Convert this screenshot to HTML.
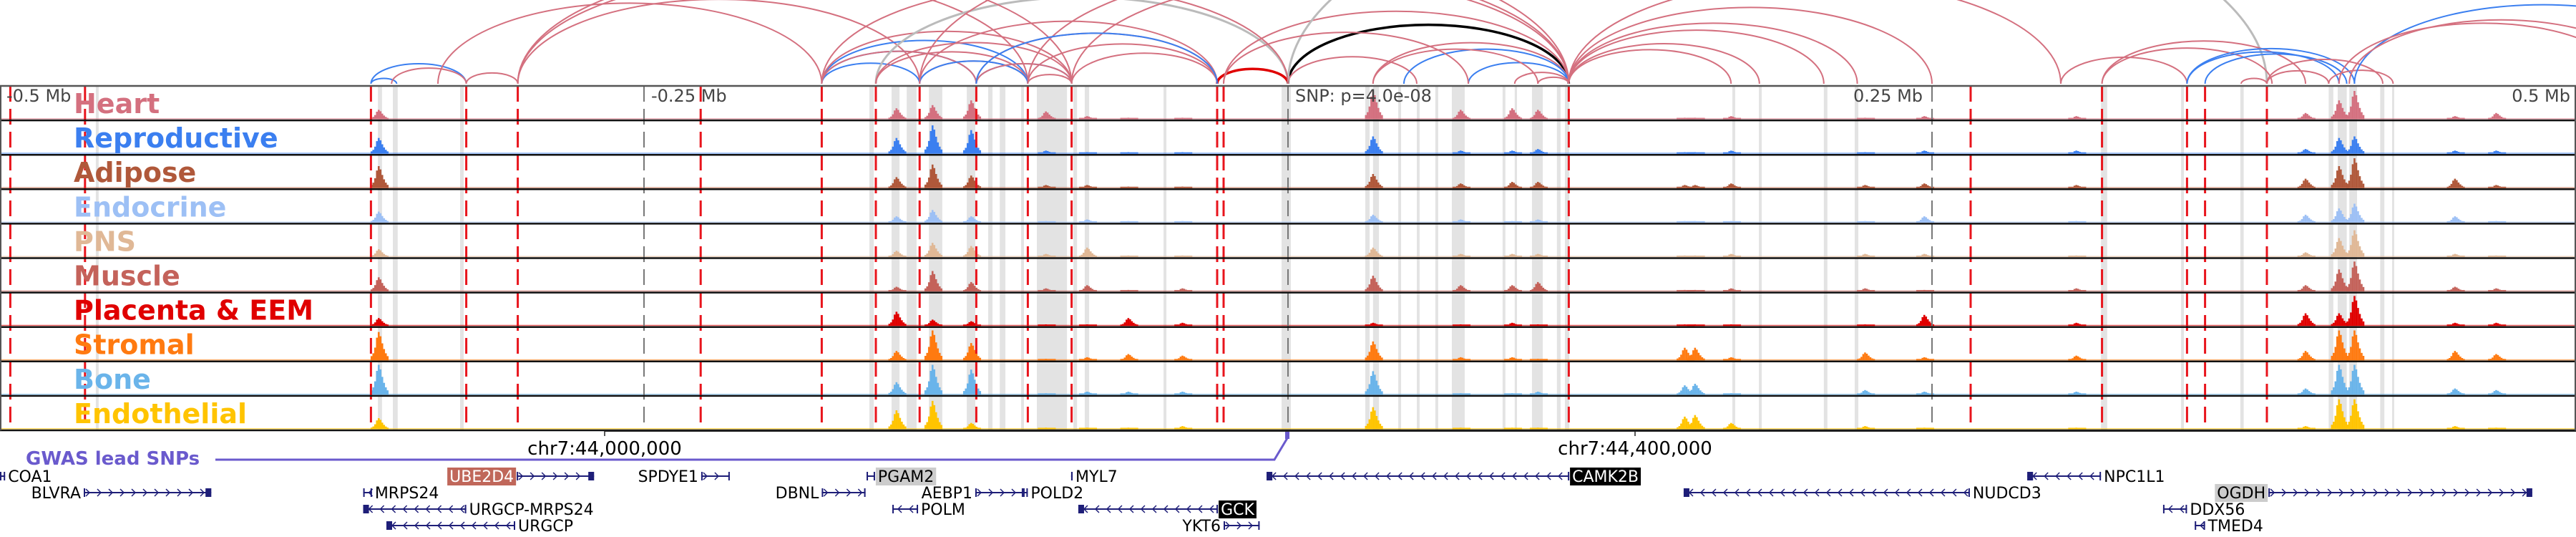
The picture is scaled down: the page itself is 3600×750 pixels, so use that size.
<!DOCTYPE html>
<html><head><meta charset="utf-8">
<style>
html,body{margin:0;padding:0;background:#fff;}
svg{display:block;font-family:"DejaVu Sans","Liberation Sans",sans-serif;}
</style></head>
<body>
<svg id="chart" width="3600" height="750" viewBox="0 0 3600 750" xmlns="http://www.w3.org/2000/svg">
<g id="arcs"></g>
<g id="bands"></g>
<g id="signals"></g>
<g id="vlines"></g>
<g id="frames"></g>
<g id="labels"></g>
<g id="ticks">
 <text x="9" y="142" font-size="24" fill="#444">-0.5 Mb</text>
 <text x="910" y="142" font-size="24" fill="#444">-0.25 Mb</text>
 <text x="1810" y="142" font-size="24" fill="#444">SNP: p=4.0e-08</text>
 <text x="2590" y="142" font-size="24" fill="#444">0.25 Mb</text>
 <text x="3592" y="142" font-size="24" fill="#444" text-anchor="end">0.5 Mb</text>
</g>
<g id="axis">
 <line x1="845" y1="602" x2="3600" y2="602" stroke="#222" stroke-width="2"/>
 <line x1="845" y1="601" x2="845" y2="609" stroke="#222" stroke-width="1.5"/>
 <line x1="2285" y1="601" x2="2285" y2="609" stroke="#222" stroke-width="1.5"/>
 <text x="845" y="635" font-size="26" text-anchor="middle" fill="#000">chr7:44,000,000</text>
 <text x="2285" y="635" font-size="26" text-anchor="middle" fill="#000">chr7:44,400,000</text>
</g>
<g id="gwas">
 <text x="36" y="649" font-size="26" font-weight="bold" fill="#6a5acd">GWAS lead SNPs</text>
 <polyline points="301,642 1781,642 1799,612" fill="none" stroke="#6a5acd" stroke-width="3"/>
 <rect x="1796" y="603" width="6" height="10" fill="#6a5acd"/>
</g>
<g id="genes"></g>
</svg>
<script>
// ----- data -----
const tissues = ["Heart","Reproductive","Adipose","Endocrine","PNS","Muscle","Placenta & EEM","Stromal","Bone","Endothelial"];
const tissueColors = ["#d4707f","#3b7ff0","#b0583a","#9dc0f5","#e0b896","#c4625a","#e00000","#ff7a10","#6ab4ea","#ffc400"];
const peakKb = [-353,-152,-138,-123,-94,-78,-62,-41,33,67,87,97,154,158,172,224,247,306,395,408,414,453,469];
const hHeart = [.3,.35,.45,.6,.25,.1,.05,.05,.9,.3,.35,.3,.05,.05,.1,.05,.1,.1,.2,.6,.9,.1,.2];
const hRepro = [.5,.5,.9,.75,.1,.05,.05,.05,.55,.1,.1,.15,.05,.05,.1,.05,.1,.1,.15,.5,.55,.1,.1];
const hAdipose = [.7,.35,.75,.4,.1,.1,.05,.05,.45,.15,.2,.2,.1,.1,.15,.1,.15,.1,.3,.7,.95,.3,.1];
const hEndocrine = [.35,.2,.4,.2,.05,.1,.05,.05,.25,.1,.05,.1,.05,.05,.05,.05,.2,.05,.25,.45,.6,.2,.05];
const hPNS = [.25,.2,.45,.35,.1,.3,.05,.05,.3,.1,.1,.1,.05,.05,.1,.1,.1,.05,.15,.6,.85,.1,.05];
const hMuscle = [.45,.15,.65,.3,.1,.2,.05,.1,.5,.2,.2,.3,.05,.05,.1,.1,.05,.1,.2,.7,.95,.15,.1];
const hPlacenta = [.25,.45,.2,.15,.05,.05,.25,.1,.1,.05,.1,.05,.05,.05,.05,.05,.35,.1,.4,.4,.95,.1,.1];
const hStromal = [.9,.3,.95,.55,.05,.1,.2,.15,.6,.1,.1,.05,.4,.4,.1,.25,.1,.15,.3,.95,.95,.3,.2];
const hBone = [.95,.4,.95,.8,.05,.1,.1,.1,.75,.05,.05,.1,.3,.35,.05,.15,.1,.1,.2,.95,.95,.2,.15];
const hEndothelial = [.35,.6,.9,.2,.05,.05,.05,.1,.7,.05,.05,.05,.4,.45,.2,.1,.05,.05,.1,.95,.95,.1,.05];
const redLinesKb = [-496,-467,-356,-319,-299,-228,-181,-160,-143,-121,-101,-84,-27.5,-25,109,265,316,349,356,380];
const grayLinesKb = [-250,0,250];
const bandStartKb = [-462.8,-353.3,-347.5,-321.4,-162.5,-153.9,-148,-139.4,-124.7,-116.4,-111.9,-103.6,-97.5,-83.3,-78.9,-48.3,-2.5,30,33,42.8,50,57.2,63.6,83.3,88,94.7,104.4,107.5,172.5,182.8,208,220,315.6,346.7,369.7,404,407.5,412,424,428.6];
const bandEndKb = [-461.7,-351.7,-345.6,-320,-160.8,-150.8,-144.2,-134.2,-121.4,-114.7,-109.7,-102.5,-85.8,-81.9,-77.2,-47.2,1.1,31.7,35.3,43.9,51.1,58.3,68.6,84.4,88.9,98.9,105.8,109.2,173.6,183.9,209.4,221.4,318,347.8,371,405.8,411,415,425.6,429.4];
const arcStartKb = [-356,-356,-348,-319,-299,-299,-330,-181,-181,-181,-181,-181,-160,-143,-121,-101,-84,-160,-143,-143,-121,-121,-101,-27.5,0,-25,0,33,45,70,88,97,-84,-101,109,109,109,109,109,109,0,300,316,316,349,356,349,370,380,380,404,414,408,412,-299,-143,-181,-25,33,-160,-121];
const arcEndKb = [-346,-319,-319,-299,-143,-101,-181,-101,-143,-121,-121,-84,0,-27.5,-27.5,-27.5,-27.5,-101,-101,-101,-84,-84,-84,0,109,109,50,109,109,109,109,109,109,109,172,183,208,221,300,250,380,349,395,382,408,411,414,380,404,425,429,560,520,530,-84,109,0,70,97,-84,-27.5];
const arcColors = ["b","b","p","p","p","p","p","b","b","b","p","p","g","p","p","p","p","p","p","b","b","p","p","r","k","p","p","p","b","b","p","p","p","p","p","p","p","p","p","p","g","p","p","p","b","b","b","p","p","p","p","b","p","p","p","p","p","p","p","p","b"];
const genes = [
 ["COA1",-500,-498,0,-1,"none"],["BLVRA",-467.5,-418,1,1,"none"],["UBE2D4",-299.4,-269.4,0,1,"brown"],["SPDYE1",-227.8,-216.7,0,1,"none"],
 ["MRPS24",-359,-355.6,1,-1,"none"],["URGCP-MRPS24",-359,-319,2,-1,"none"],["URGCP",-350,-300,3,-1,"none"],
 ["DBNL",-181,-164,1,1,"none"],["PGAM2",-163.6,-160.3,0,-1,"gray"],["AEBP1",-121.4,-102.8,1,1,"none"],["POLD2",-102.8,-101,1,-1,"none"],
 ["POLM",-153.6,-143.6,2,-1,"none"],["MYL7",-84.2,-83.6,0,-1,"none"],["GCK",-81.4,-27.2,2,-1,"black"],["YKT6",-25,-11,3,1,"none"],
 ["CAMK2B",-8.3,109.2,0,-1,"black"],["NUDCD3",153.6,264.7,1,-1,"none"],["NPC1L1",287,315.6,0,-1,"none"],["OGDH",380.6,483,1,1,"gray"],
 ["DDX56",339.7,349,2,-1,"none"],["TMED4",352,356,3,-1,"none"]
];
// ----- scales -----
const NS="http://www.w3.org/2000/svg";
function xs(kb){return 1800+kb*3.6;}
const trackTop=120, trackH=48.1, sigMax=44;
function ty(i){return trackTop+i*trackH;}
function mk(tag,attrs,parent){const e=document.createElementNS(NS,tag);for(const k in attrs)e.setAttribute(k,attrs[k]);parent.appendChild(e);return e;}
const palette={p:"#d4707f",b:"#3b7ff0",g:"#bbbbbb",r:"#e00000",k:"#000000"};
// arcs
const gA=document.getElementById("arcs");
for(let i=0;i<arcStartKb.length;i++){
 const x1=xs(arcStartKb[i]),x2=xs(arcEndKb[i]);const span=x2-x1;const c=arcColors[i];
 const p=mk("path",{d:`M${x1},117 A${span/2},${span*0.21} 0 0 1 ${x2},117`,fill:"none",stroke:palette[c],"stroke-width":(c==="r"||c==="k")?3.5:(c==="g"?3:2)},gA);
 
 
}
// bands
const gB=document.getElementById("bands");
for(let i=0;i<bandStartKb.length;i++){
 const r=mk("rect",{x:xs(bandStartKb[i]),y:trackTop,width:Math.max(3,xs(bandEndKb[i])-xs(bandStartKb[i])),height:trackH*10,fill:"#e3e3e3"},gB);
 
 
}
// signals
const heights=[hHeart,hRepro,hAdipose,hEndocrine,hPNS,hMuscle,hPlacenta,hStromal,hBone,hEndothelial];
const shape=[.15,.25,.45,.8,1,.85,.6,.4,.25,.15];
const gS=document.getElementById("signals");
for(let t=0;t<tissues.length;t++){
 const g=mk("g",{fill:tissueColors[t]},gS);
 
 
 const base=ty(t+1)-1.5;
 const bl=mk("rect",{x:0,y:base-1.5,width:3600,height:1.5,opacity:0.6},g);
 
 
 for(let p=0;p<peakKb.length;p++){
  const cx=xs(peakKb[p]);const H=heights[t][p]*sigMax;
  for(let s=0;s<shape.length;s++){
   const h=Math.max(2,H*shape[s]);
   const b=mk("rect",{x:cx+(s-4.5)*2.5,y:base-h,width:2.6,height:h},g);
   
   
  }
 }
}
// vertical lines
const gV=document.getElementById("vlines");
redLinesKb.forEach(k=>{const l=mk("line",{x1:xs(k),x2:xs(k),y1:trackTop,y2:601,stroke:"#e8141c","stroke-width":3,"stroke-dasharray":"22 10"},gV);
 
 });
grayLinesKb.forEach(k=>{const l=mk("line",{x1:xs(k),x2:xs(k),y1:trackTop,y2:601,stroke:"#777","stroke-width":2,"stroke-dasharray":"22 10"},gV);
 
 });
// frames
const gF=document.getElementById("frames");
for(let i=0;i<=10;i++){const l=mk("line",{x1:0,x2:3600,y1:ty(i),y2:ty(i),stroke:i===0?"#555":"#111","stroke-width":2.5},gF);
 
 }
mk("line",{x1:1,x2:1,y1:trackTop,y2:601,stroke:"#555","stroke-width":2},gF);
mk("line",{x1:3599,x2:3599,y1:trackTop,y2:601,stroke:"#555","stroke-width":2},gF);
// labels
const gL=document.getElementById("labels");
tissues.forEach((n,i)=>{const tx=mk("text",{x:103,y:ty(i)+38,"font-size":38,"font-weight":"bold",fill:tissueColors[i]},gL);tx.textContent=n;
 
 });
// genes
const gG=document.getElementById("genes");
const rowY=[665,688,711,734];const navy="#1e1e78";
genes.forEach(([name,s,e,row,strand,hl])=>{
 const g=mk("g",{},gG);
 
 
 const x1=xs(s),x2=xs(e),y=rowY[row];
 mk("line",{x1:x1,x2:x2,y1:y,y2:y,stroke:navy,"stroke-width":2},g);
 for(let x=x1+8;x<x2-4;x+=16){const d=strand>0?-5:5;
  mk("polyline",{points:`${x+d},${y-5} ${x},${y} ${x+d},${y+5}`,fill:"none",stroke:navy,"stroke-width":1.5},g);}
 mk("rect",{x:x1,y:y-6,width:2,height:12,fill:navy},g);
 mk("rect",{x:x2-2,y:y-6,width:2,height:12,fill:navy},g);
 if(e-s>25){mk("rect",{x:strand>0?x2-8:x1,y:y-6,width:8,height:12,fill:navy},g);}
 const leftLabel=strand>0;
 const lx=leftLabel?x1-4:x2+4;
 const t=mk("text",{x:lx,y:y+8,"font-size":22,"text-anchor":leftLabel?"end":"start",fill:hl==="black"||hl==="brown"?"#fff":"#000"},g);
 t.textContent=name;
 if(hl!=="none"){
  let tw=name.length*13.5; try{tw=t.getComputedTextLength();}catch(err){}
  const bx=leftLabel?lx-tw-3:lx-3;
  const r=mk("rect",{x:bx,y:y-12,width:tw+6,height:25,fill:hl==="black"?"#000":hl==="brown"?"#c0675a":"#cccccc"},g);
  g.insertBefore(r,t);}
});
</script>
</body></html>
